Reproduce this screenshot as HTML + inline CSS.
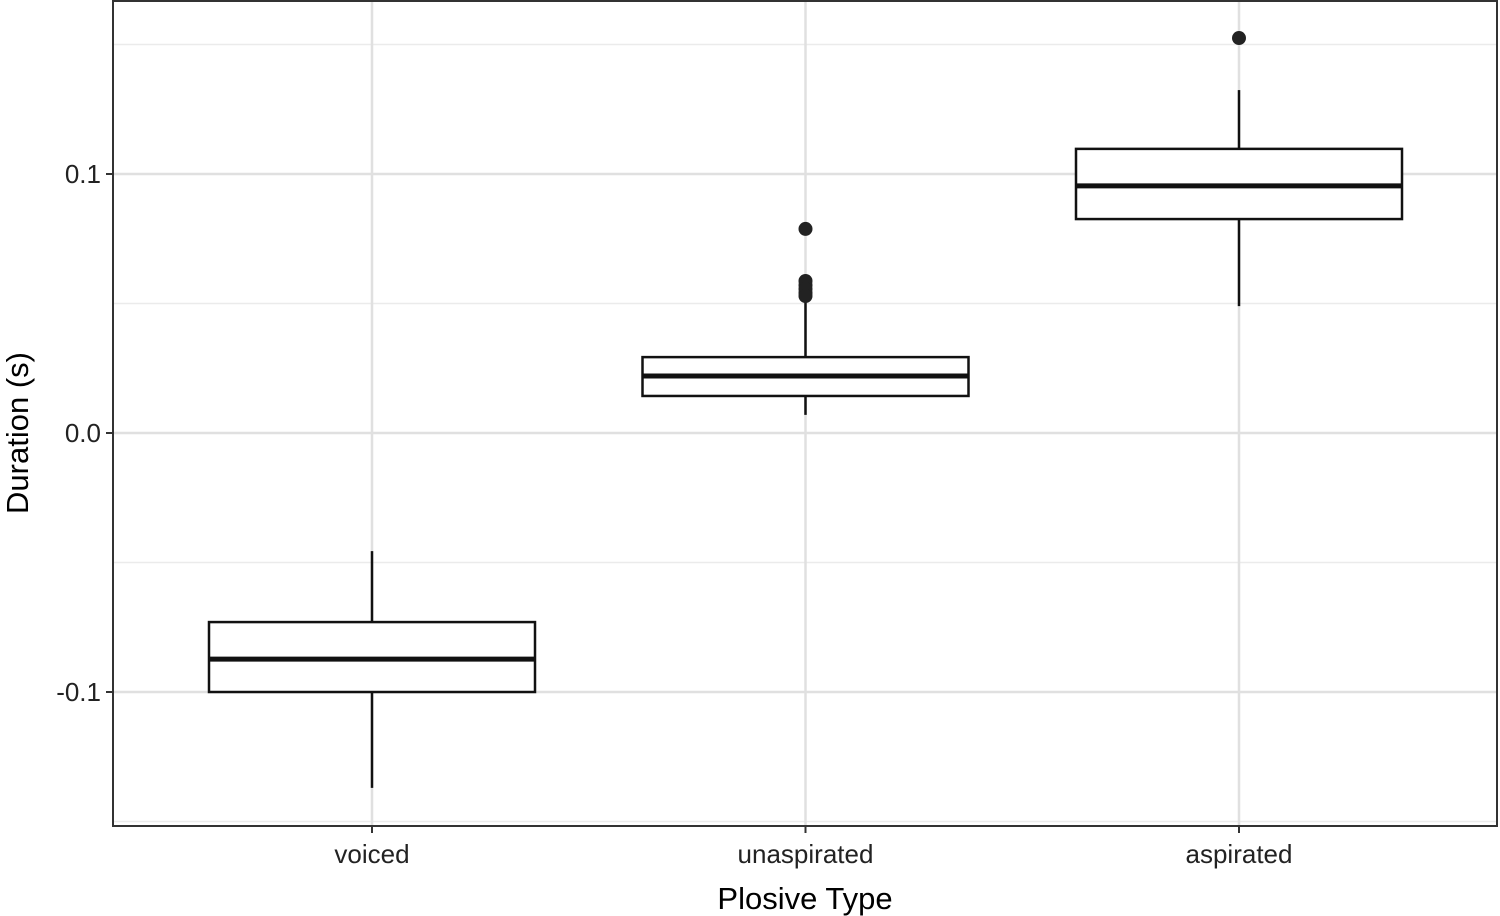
<!DOCTYPE html>
<html><head><meta charset="utf-8"><style>
body{margin:0;background:#fff;}
svg{display:block;font-family:"Liberation Sans",Arial,sans-serif;}
</style></head><body>
<svg id="chart" width="1500" height="916">
<g id="grid"></g>
<g id="boxes"></g>
<rect x="113" y="1" width="1384" height="825" fill="none" stroke="#333" stroke-width="2"/>
<g id="axes"></g>
<text x="805" y="909" font-size="31" text-anchor="middle" fill="#000">Plosive Type</text>
<text transform="translate(28,433) rotate(-90)" font-size="31" text-anchor="middle" fill="#000">Duration (s)</text>
</svg>
<script>
const categories=["voiced","unaspirated","aspirated"];
const whiskerLow=[-0.137,0.007,0.049];
const q1=[-0.1,0.0143,0.0826];
const medians=[-0.0873,0.022,0.0954];
const q3=[-0.073,0.0293,0.1097];
const whiskerHigh=[-0.0456,0.0514,0.1324];
const outliers=[[],[0.0788,0.0587,0.0571,0.0556,0.0541,0.0529],[0.1525]];
const yTicks=[-0.1,0.0,0.1];
const yTickLabels=["-0.1","0.0","0.1"];
const yMinor=[-0.15,-0.05,0.05,0.15];

const NS="http://www.w3.org/2000/svg";
const L=113,R=1497,T=1,B=826;
function y(v){return 433-v*2590;}
function x(i){return 372+i*433.5;}
function mk(p,tag,a){const e=document.createElementNS(NS,tag);for(const k in a)e.setAttribute(k,a[k]);p.appendChild(e);return e;}
const grid=document.getElementById('grid'),boxes=document.getElementById('boxes'),axes=document.getElementById('axes');
yMinor.forEach(v=>{const e=mk(grid,'line',{x1:L,x2:R,y1:y(v),y2:y(v),stroke:'#ebebeb','stroke-width':1.5});

});
yTicks.forEach((v,i)=>{const e=mk(grid,'line',{x1:L,x2:R,y1:y(v),y2:y(v),stroke:'#e0e0e0','stroke-width':2.5});


const t=mk(axes,'line',{x1:L-7,x2:L,y1:y(v),y2:y(v),stroke:'#333','stroke-width':2});


const tx=mk(axes,'text',{x:L-12,y:y(v)+9,'font-size':26,'text-anchor':'end',fill:'#222'});tx.textContent=yTickLabels[i];

});
categories.forEach((c,i)=>{const cx=x(i),hw=163;
const g=mk(grid,'line',{x1:cx,x2:cx,y1:T,y2:B,stroke:'#e0e0e0','stroke-width':2.5});


const grp=mk(boxes,'g',{});


mk(grp,'line',{x1:cx,x2:cx,y1:y(whiskerHigh[i]),y2:y(q3[i]),stroke:'#111','stroke-width':2.5});
mk(grp,'line',{x1:cx,x2:cx,y1:y(q1[i]),y2:y(whiskerLow[i]),stroke:'#111','stroke-width':2.5});
mk(grp,'rect',{x:cx-hw,y:y(q3[i]),width:2*hw,height:y(q1[i])-y(q3[i]),fill:'#fff',stroke:'#111','stroke-width':2.5});
mk(grp,'line',{x1:cx-hw,x2:cx+hw,y1:y(medians[i]),y2:y(medians[i]),stroke:'#111','stroke-width':5});
outliers[i].forEach(o=>{const d=mk(grp,'circle',{cx:cx,cy:y(o),r:7,fill:'#222'});

});
const t=mk(axes,'line',{x1:cx,x2:cx,y1:B,y2:B+7,stroke:'#333','stroke-width':2});


const tx=mk(axes,'text',{x:cx,y:B+37,'font-size':26,'text-anchor':'middle',fill:'#222'});tx.textContent=c;

});
</script>
</body></html>
